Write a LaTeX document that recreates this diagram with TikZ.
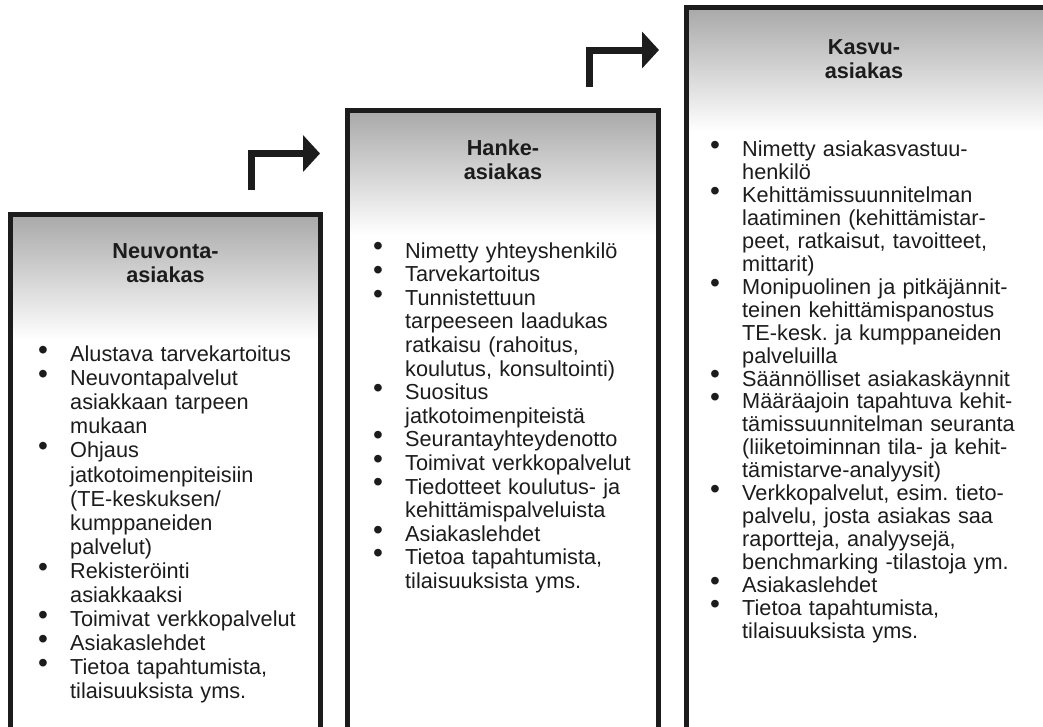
\documentclass[tikz,border=0pt]{standalone}
\usepackage{fontspec}
\usepackage{graphicx}
\setmainfont{Liberation Sans}
\usetikzlibrary{arrows.meta}
\definecolor{hdr}{RGB}{168,168,168}
\definecolor{ink}{RGB}{28,28,28}
\newcommand\nl{\hfil\break}
\newcommand\bitem[1]{\hangindent=32pt\hangafter=1\noindent\makebox[32pt][l]{\raisebox{2.2pt}{\scalebox{1.3}{\textbullet}}}#1\par}
\tikzset{
  boxframe/.style={draw=ink, line width=5pt, line join=miter},
  boxhead/.style={top color=hdr, bottom color=white, draw=none},
  boxtitle/.style={anchor=base, inner sep=0pt, text width=220pt, align=center, text=ink,
    font=\fontsize{21.7}{24}\selectfont\bfseries},
  boxlist/.style={anchor=base west, inner sep=0pt, text width=330pt, align=left, text=ink},
  bentarrow/.style={draw=ink, line width=7pt, line join=miter, -{Triangle[length=17pt,width=36pt]}}
}
\begin{document}
\frenchspacing
\begin{tikzpicture}[x=1pt,y=-1pt]
\useasboundingbox (0,0) rectangle (1043,726);
\clip (0,0) rectangle (1043,726);
% header shading
\shade[boxhead] (10,214) rectangle (320,340);
\shade[boxhead] (347,110) rectangle (658,235);
\shade[boxhead] (686,7) rectangle (1050,132);
% frames (open at the bottom)
\draw[boxframe] (10.5,735) -- (10.5,214.5) -- (320,214.5) -- (320,735);
\draw[boxframe] (347,735) -- (347,110.5) -- (658.5,110.5) -- (658.5,735);
\draw[boxframe] (686,735) -- (686,7.5) -- (1060,7.5);
% bent arrows
\coordinate (a1s) at (251,190);
\coordinate (a1e) at (320,153.5);
\coordinate (a2s) at (589.5,87);
\coordinate (a2e) at (659,50);
\draw[bentarrow] (a1s) |- (a1e);
\draw[bentarrow] (a2s) |- (a2e);
% titles
\node[boxtitle] (t1) at (165.5,258) {Neuvonta-\\asiakas};
\node[boxtitle] (t2) at (503,155) {Hanke-\\asiakas};
\node[boxtitle] (t3) at (864,54) {Kasvu-\\asiakas};
% lists
\node[boxlist, font=\fontsize{21.7}{24.1}\selectfont] (l1) at (38,361.5) {%
\bitem{Alustava tarvekartoitus}
\bitem{Neuvontapalvelut\nl asiakkaan tarpeen\nl mukaan}
\bitem{Ohjaus\nl jatkotoimenpiteisiin\nl (TE-keskuksen/\nl kumppaneiden\nl palvelut)}
\bitem{Rekisteröinti\nl asiakkaaksi}
\bitem{Toimivat verkkopalvelut}
\bitem{Asiakaslehdet}
\bitem{Tietoa tapahtumista,\nl tilaisuuksista yms.}};
\node[boxlist, font=\fontsize{21.7}{23.6}\selectfont] (l2) at (373,258) {%
\bitem{Nimetty yhteyshenkilö}
\bitem{Tarvekartoitus}
\bitem{Tunnistettuun\nl tarpeeseen laadukas\nl ratkaisu (rahoitus,\nl koulutus, konsultointi)}
\bitem{Suositus\nl jatkotoimenpiteistä}
\bitem{Seurantayhteydenotto}
\bitem{Toimivat verkkopalvelut}
\bitem{Tiedotteet koulutus- ja\nl kehittämispalveluista}
\bitem{Asiakaslehdet}
\bitem{Tietoa tapahtumista,\nl tilaisuuksista yms.}};
\node[boxlist, font=\fontsize{21.7}{22.95}\selectfont] (l3) at (710,156.5) {%
\bitem{Nimetty asiakasvastuu-\nl henkilö}
\bitem{Kehittämissuunnitelman\nl laatiminen (kehittämistar-\nl peet, ratkaisut, tavoitteet,\nl mittarit)}
\bitem{Monipuolinen ja pitkäjännit-\nl teinen kehittämispanostus\nl TE-kesk. ja kumppaneiden\nl palveluilla}
\bitem{Säännölliset asiakaskäynnit}
\bitem{Määräajoin tapahtuva kehit-\nl tämissuunnitelman seuranta\nl (liiketoiminnan tila- ja kehit-\nl tämistarve-analyysit)}
\bitem{Verkkopalvelut, esim. tieto-\nl palvelu, josta asiakas saa\nl raportteja, analyysejä,\nl benchmarking -tilastoja ym.}
\bitem{Asiakaslehdet}
\bitem{Tietoa tapahtumista,\nl tilaisuuksista yms.}};
\end{tikzpicture}
\end{document}
